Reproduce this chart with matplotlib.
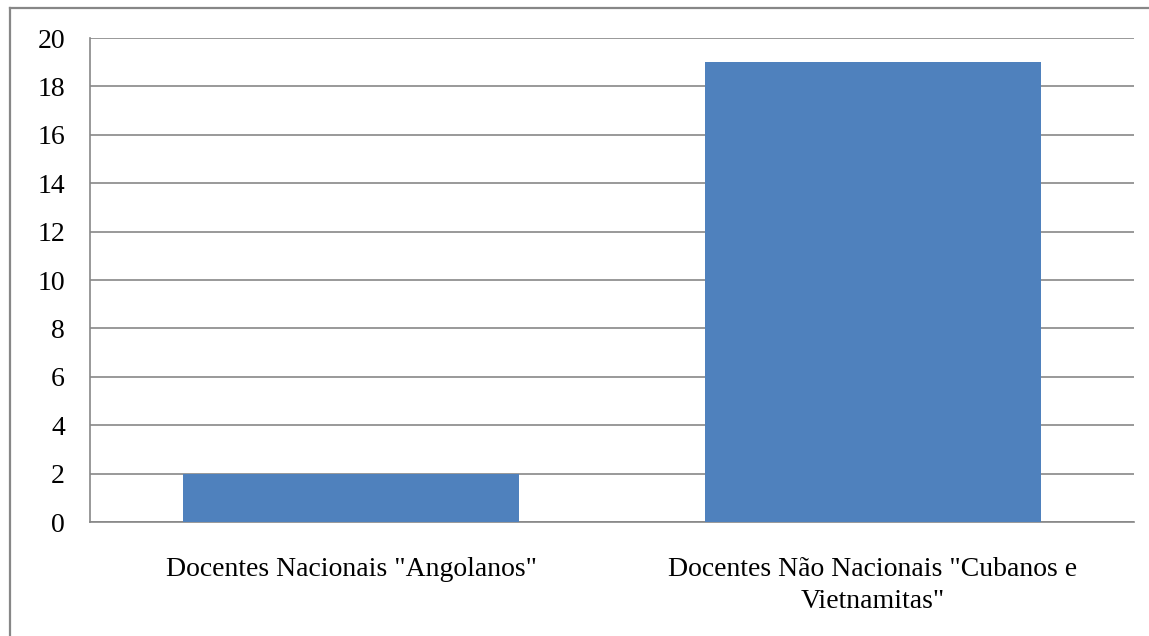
import matplotlib
matplotlib.use("agg")
import matplotlib.pyplot as plt
from matplotlib.lines import Line2D

categories = ['Docentes Nacionais "Angolanos"', 'Docentes Não Nacionais "Cubanos e\nVietnamitas"']
values = [2, 19]
yticks = [0, 2, 4, 6, 8, 10, 12, 14, 16, 18, 20]

plt.rcParams['font.family'] = ['Liberation Serif', 'DejaVu Serif']

W, H = 1149, 636
fig = plt.figure(figsize=(W / 100, H / 100), dpi=100)
ax = fig.add_axes([90 / W, 1 - 522 / H, (1134 - 90) / W, (522 - 38) / H])

# outer chart border (only left and top are in frame)
grey = '#878787'
fig.add_artist(Line2D([10 / W, 10 / W], [0, 1 - 8 / H], color=grey, lw=1.6, transform=fig.transFigure))
fig.add_artist(Line2D([9.5 / W, 1], [1 - 8 / H, 1 - 8 / H], color=grey, lw=1.6, transform=fig.transFigure))

ax.bar(range(len(values)), values, width=0.644, color='#4F81BD', zorder=3)
ax.set_xlim(-0.5, 1.5)
ax.set_ylim(0, 20)
ax.set_yticks(yticks)
ax.set_xticks(range(len(categories)))
ax.set_xticklabels(categories, fontsize=20, linespacing=1.4)
ax.tick_params(axis='y', labelsize=20, length=0, pad=18)
ax.tick_params(axis='x', length=0, pad=25)
ax.grid(axis='y', color=grey, lw=1.2, zorder=0)
for s in ['top', 'right']:
    ax.spines[s].set_visible(False)
ax.spines['left'].set_color(grey)
ax.spines['bottom'].set_color(grey)
ax.spines['left'].set_linewidth(1.2)
ax.spines['bottom'].set_linewidth(1.2)

fig.savefig('out.png', dpi=100)
